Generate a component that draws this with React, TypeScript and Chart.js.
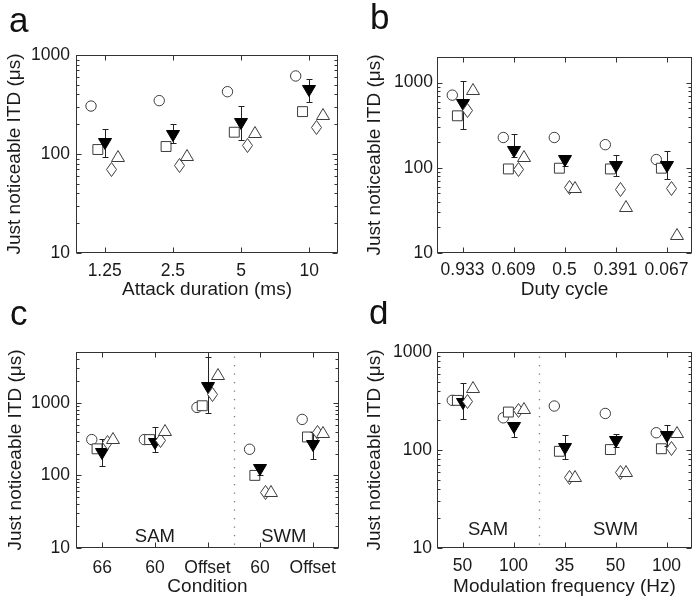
import React, { useEffect, useRef } from 'react';
import { Chart, registerables } from 'chart.js';

Chart.register(...registerables);

const FONT = '"Liberation Sans", Arial, Helvetica, sans-serif';
const TEXT = '#1a1a1a';
const STROKE = '#3c3c3c';

// ---- Panel a : Attack duration ----
const aCategories = ['1.25', '2.5', '5', '10'];
const aCircle = [305, 346, 426, 614];
const aSquare = [111, 119, 166, 268];
const aMean = [125, 153, 200, 436];
const aLow = [93, 128, 138, 338];
const aHigh = [177, 200, 305, 572];
const aDiamond = [69, 76, 121, 186];
const aTriangle = [95, 98, 168, 253];

// ---- Panel b : Duty cycle ----
const bCategories = ['0.933', '0.609', '0.5', '0.391', '0.067'];
const bCircle = [713, 227, 227, 187, 125];
const bSquare = [408, 97, 99, 97, 99];
const bMean = [551, 153, 119, 102, 103];
const bLow = [285, 133, 104, 81, 74];
const bHigh = [1047, 249, 139, 141, 156];
const bDiamond = [475, 95, 59, 56, 57];
const bTriangle = [851, 139, 59, 36, 16.5];

// ---- Panel c : Condition ----
const cCategories = ['66', '60', 'Offset', '60', 'Offset'];
const cCircle = [311, 311, 863, 229, 590];
const cSquare = [232, 311, 910, 100, 338];
const cMean = [196, 272, 1621, 118, 254];
const cLow = [134, 209, 722, 102, 166];
const cHigh = [314, 469, 4266, 135, 396];
const cDiamond = [286, 302, 1315, 58, 384];
const cTriangle = [324, 423, 2472, 60, 396];

// ---- Panel d : Modulation frequency ----
const dCategories = ['50', '100', '35', '50', '100'];
const dCircle = [321, 213, 281, 236, 150];
const dSquare = [321, 244, 97, 101, 103];
const dMean = [292, 169, 102, 121, 135];
const dLow = [205, 136, 81, 107, 109];
const dHigh = [486, 195, 141, 146, 182];
const dDiamond = [316, 255, 53, 59, 103];
const dTriangle = [443, 266, 54, 61, 152];

const yTickValues = [10, 100, 1000];
const markerOffsets = { circle: -0.2, square: -0.1, mean: 0, diamond: 0.1, triangle: 0.2 };

type Region = { text: string; x: number; y: number };
type Panel = {
  letter: string; left: number; top: number;
  cats: string[]; xMin: number; xMax: number; yMax: number; xTitle: string;
  circle: number[]; square: number[]; mean: number[]; low: number[]; high: number[];
  diamond: number[]; triangle: number[];
  padTop: number; padRight: number; yWidth: number; xHeight: number;
  yTickPad: number; xTickPad: number; yTitlePad: number; xTitlePad: number;
  letterX: number; letterY: number; sep: number | null; regions: Region[];
};

const PANELS: Panel[] = [
  {
    letter: 'a', left: 0, top: 0, cats: aCategories, xMin: 0.58, xMax: 4.42, yMax: 1000,
    xTitle: 'Attack duration (ms)', circle: aCircle, square: aSquare, mean: aMean, low: aLow, high: aHigh,
    diamond: aDiamond, triangle: aTriangle, padTop: 55, padRight: 12, yWidth: 76, xHeight: 48,
    yTickPad: 6, xTickPad: 8, yTitlePad: 3, xTitlePad: 0, letterX: 9, letterY: 32, sep: null, regions: [],
  },
  {
    letter: 'b', left: 350, top: 0, cats: bCategories, xMin: 0.5, xMax: 5.5, yMax: 2000,
    xTitle: 'Duty cycle', circle: bCircle, square: bSquare, mean: bMean, low: bLow, high: bHigh,
    diamond: bDiamond, triangle: bTriangle, padTop: 57, padRight: 2, yWidth: 87, xHeight: 48,
    yTickPad: 4, xTickPad: 6.5, yTitlePad: 13.6, xTitlePad: 0, letterX: 20, letterY: 28.5, sep: null, regions: [],
  },
  {
    letter: 'c', left: 0, top: 301, cats: cCategories, xMin: 0.5, xMax: 5.5, yMax: 5000,
    xTitle: 'Condition', circle: cCircle, square: cSquare, mean: cMean, low: cLow, high: cHigh,
    diamond: cDiamond, triangle: cTriangle, padTop: 51, padRight: 11, yWidth: 76, xHeight: 54,
    yTickPad: 6, xTickPad: 10, yTitlePad: 4, xTitlePad: 4, letterX: 10, letterY: 24, sep: 3.5,
    regions: [{ text: 'SAM', x: 2, y: 14.4 }, { text: 'SWM', x: 4.45, y: 14.4 }],
  },
  {
    letter: 'd', left: 350, top: 301, cats: dCategories, xMin: 0.5, xMax: 5.5, yMax: 1000,
    xTitle: 'Modulation frequency (Hz)', circle: dCircle, square: dSquare, mean: dMean, low: dLow, high: dHigh,
    diamond: dDiamond, triangle: dTriangle, padTop: 51, padRight: 1, yWidth: 87, xHeight: 54,
    yTickPad: 5, xTickPad: 8, yTitlePad: 13.6, xTitlePad: 4, letterX: 19, letterY: 23, sep: 2.5,
    regions: [{ text: 'SAM', x: 1.5, y: 15.4 }, { text: 'SWM', x: 4, y: 15.4 }],
  },
];

function buildMarkers() {
  const make = (w: number, h: number, pts: number[][], fill: string, stroke: string) => {
    const c = document.createElement('canvas');
    c.width = w;
    c.height = h;
    const g = c.getContext('2d') as CanvasRenderingContext2D;
    g.beginPath();
    pts.forEach(([x, y], i) => (i ? g.lineTo(x, y) : g.moveTo(x, y)));
    g.closePath();
    g.fillStyle = fill;
    g.fill();
    g.strokeStyle = stroke;
    g.lineWidth = 1;
    g.stroke();
    return c;
  };
  return {
    diamond: make(11, 15, [[5.5, 0.5], [10.5, 7.5], [5.5, 14.5], [0.5, 7.5]], '#fff', STROKE),
    triUp: make(14, 12, [[7, 0.5], [13.5, 11.5], [0.5, 11.5]], '#fff', STROKE),
    triDown: make(14, 12, [[0.5, 0.5], [13.5, 0.5], [7, 11.5]], '#000', '#000'),
  };
}

function PanelChart({ p }: { p: Panel }) {
  const ref = useRef<HTMLCanvasElement>(null);

  useEffect(() => {
    const canvas = ref.current;
    if (!canvas) return;
    const mk = buildMarkers();
    const pts = (vals: number[], off: number) => vals.map((v, i) => ({ x: i + 1 + off, y: v }));
    const base = { type: 'scatter', showLine: false, borderWidth: 1, borderColor: STROKE, backgroundColor: '#fff' };
    const datasets: any[] = [
      { ...base, label: 'triangle', data: pts(p.triangle, markerOffsets.triangle), pointStyle: mk.triUp, pointRadius: 6 },
      { ...base, label: 'diamond', data: pts(p.diamond, markerOffsets.diamond), pointStyle: mk.diamond, pointRadius: 6 },
      { ...base, label: 'mean', data: pts(p.mean, markerOffsets.mean), pointStyle: mk.triDown, pointRadius: 6, errLow: p.low, errHigh: p.high },
      { ...base, label: 'square', data: pts(p.square, markerOffsets.square), pointStyle: 'rect', pointRadius: 7 },
      { ...base, label: 'circle', data: pts(p.circle, markerOffsets.circle), pointStyle: 'circle', pointRadius: 5.2 },
    ];

    const line = (ctx: CanvasRenderingContext2D, x1: number, y1: number, x2: number, y2: number) => {
      ctx.beginPath();
      ctx.moveTo(x1, y1);
      ctx.lineTo(x2, y2);
      ctx.stroke();
    };

    const deco = {
      id: 'deco',
      beforeDatasetsDraw(chart: any) {
        const { ctx, chartArea: a, scales } = chart;
        const xs = scales.x;
        const ys = scales.y;
        const L = Math.round(a.left) + 0.5;
        const R = Math.round(a.right) - 0.5;
        const T = Math.round(a.top) + 0.5;
        const B = Math.round(a.bottom) - 0.5;
        ctx.save();
        if (p.sep != null) {
          const x = Math.round(xs.getPixelForValue(p.sep)) + 0.5;
          ctx.strokeStyle = '#7a7a7a';
          ctx.lineWidth = 1.3;
          ctx.setLineDash([1.3, 7.2]);
          line(ctx, x, T + 4, x, B);
          ctx.setLineDash([]);
        }
        ctx.fillStyle = TEXT;
        ctx.font = `18.5px ${FONT}`;
        ctx.textAlign = 'center';
        ctx.textBaseline = 'middle';
        p.regions.forEach((r) => ctx.fillText(r.text, xs.getPixelForValue(r.x), ys.getPixelForValue(r.y)));
        ctx.strokeStyle = '#333';
        ctx.lineWidth = 1;
        ctx.strokeRect(L, T, R - L, B - T);
        for (let k = 1; k <= 3; k++) {
          for (let m = 1; m <= 9; m++) {
            const v = m * Math.pow(10, k);
            if (v < ys.min - 1e-6 || v > ys.max + 1e-6) continue;
            const y = Math.round(ys.getPixelForValue(v)) + 0.5;
            const len = m === 1 ? 5 : 3;
            line(ctx, L, y, L + len, y);
            line(ctx, R, y, R - len, y);
          }
        }
        p.cats.forEach((_, i) => {
          const x = Math.round(xs.getPixelForValue(i + 1)) + 0.5;
          line(ctx, x, B, x, B - 5);
          line(ctx, x, T, x, T + 5);
        });
        ctx.restore();
        // crisp bitmap markers
        ctx.imageSmoothingEnabled = false;
      },
      afterDatasetsDraw(chart: any) {
        chart.ctx.imageSmoothingEnabled = true;
      },
      beforeDatasetDraw(chart: any, args: any) {
        const ds = chart.data.datasets[args.index];
        if (!ds.errLow) return;
        const { ctx } = chart;
        const ys = chart.scales.y;
        ctx.save();
        ctx.strokeStyle = '#222';
        ctx.lineWidth = 1;
        args.meta.data.forEach((pt: any, i: number) => {
          const x = Math.round(pt.x) + 0.5;
          const yl = Math.round(ys.getPixelForValue(ds.errLow[i])) + 0.5;
          const yh = Math.round(ys.getPixelForValue(ds.errHigh[i])) + 0.5;
          line(ctx, x, yl, x, yh);
          line(ctx, x - 3, yl, x + 3, yl);
          line(ctx, x - 3, yh, x + 3, yh);
        });
        ctx.restore();
      },
      afterDraw(chart: any) {
        const { ctx } = chart;
        ctx.save();
        ctx.fillStyle = '#111';
        ctx.font = `35px ${FONT}`;
        ctx.textAlign = 'left';
        ctx.textBaseline = 'alphabetic';
        ctx.fillText(p.letter, p.letterX, p.letterY);
        ctx.restore();
      },
    };

    const chart = new Chart(canvas, {
      type: 'scatter',
      data: { datasets },
      options: {
        animation: false,
        responsive: false,
        maintainAspectRatio: false,
        events: [],
        layout: { padding: { left: 0, right: p.padRight, top: p.padTop, bottom: 0 } },
        plugins: { legend: { display: false }, tooltip: { enabled: false } },
        scales: {
          x: {
            type: 'linear',
            min: p.xMin,
            max: p.xMax,
            grid: { display: false, drawTicks: false },
            border: { display: false },
            ticks: {
              font: { family: FONT, size: 17.5, lineHeight: 1.2 },
              color: TEXT,
              padding: p.xTickPad,
              autoSkip: false,
              maxRotation: 0,
              callback: (_v: any, i: number) => p.cats[i] ?? '',
            },
            afterBuildTicks: (s: any) => {
              s.ticks = p.cats.map((_, i) => ({ value: i + 1 }));
            },
            afterFit: (s: any) => {
              s.height = p.xHeight;
            },
            title: {
              display: true,
              text: p.xTitle,
              color: TEXT,
              font: { family: FONT, size: 19, lineHeight: 1.2 },
              padding: { top: 0, bottom: p.xTitlePad },
            },
          },
          y: {
            type: 'logarithmic',
            min: 10,
            max: p.yMax,
            grid: { display: false, drawTicks: false },
            border: { display: false },
            ticks: {
              font: { family: FONT, size: 17.5, lineHeight: 1.2 },
              color: TEXT,
              padding: p.yTickPad,
              autoSkip: false,
              callback: (v: any) => String(v),
            },
            afterBuildTicks: (s: any) => {
              s.ticks = yTickValues.filter((v) => v <= p.yMax).map((v) => ({ value: v }));
            },
            afterFit: (s: any) => {
              s.width = p.yWidth;
            },
            title: {
              display: true,
              text: 'Just noticeable ITD (μs)',
              color: TEXT,
              font: { family: FONT, size: 19, lineHeight: 1.2 },
              padding: { top: p.yTitlePad, bottom: 0 },
            },
          },
        },
      } as any,
      plugins: [deco as any],
    });
    return () => chart.destroy();
  }, [p]);

  return (
    <canvas
      ref={ref}
      width={350}
      height={301}
      style={{ position: 'absolute', left: p.left, top: p.top, width: 350, height: 301 }}
    />
  );
}

export default function App() {
  return (
    <div style={{ position: 'absolute', left: 0, top: 0, width: 700, height: 602, background: '#fff', overflow: 'hidden' }}>
      {PANELS.map((p) => (
        <PanelChart key={p.letter} p={p} />
      ))}
    </div>
  );
}
